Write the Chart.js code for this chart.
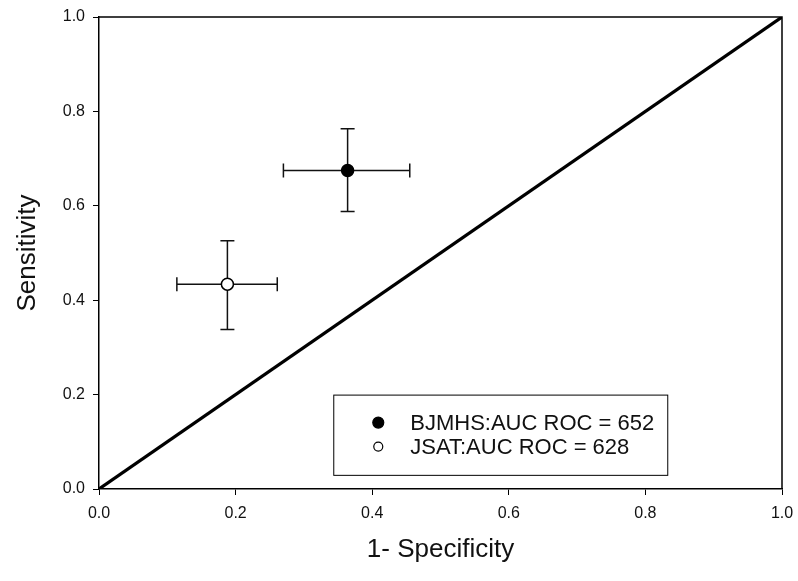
<!DOCTYPE html>
<html>
<head>
<meta charset="utf-8">
<script src="https://cdn.jsdelivr.net/npm/chart.js@4.4.1/dist/chart.umd.min.js"></script>
<style>
  html, body { margin: 0; padding: 0; background: #fff; }
  #wrap { width: 798px; height: 581px; }
</style>
</head>
<body>
<div id="wrap"><canvas id="roc"></canvas></div>
<script>
// ROC points with 95% error bars
const seriesLabels = ['BJMHS:AUC ROC = 652', 'JSAT:AUC ROC = 628'];
const specX = [0.364, 0.188];        // 1 - specificity
const sensY = [0.675, 0.434];        // sensitivity
const xLow = [0.270, 0.114];
const xHigh = [0.455, 0.261];
const yLow = [0.588, 0.338];
const yHigh = [0.763, 0.526];
const filled = [true, false];

const diagX = [0, 1];
const diagY = [0, 1];
const tickValues = [0, 0.2, 0.4, 0.6, 0.8, 1.0];

const FONT = 'Liberation Sans, Arial, Helvetica, sans-serif';

const errorBars = {
  id: 'errorBars',
  afterDatasetsDraw(chart) {
    const { ctx, scales: { x, y } } = chart;
    ctx.save();
    ctx.strokeStyle = '#111';
    ctx.lineWidth = 1.5;
    const cap = 7;
    specX.forEach((sx, i) => {
      const px = x.getPixelForValue(sx), py = y.getPixelForValue(sensY[i]);
      const l = x.getPixelForValue(xLow[i]), r = x.getPixelForValue(xHigh[i]);
      const t = y.getPixelForValue(yHigh[i]), b = y.getPixelForValue(yLow[i]);
      ctx.beginPath();
      ctx.moveTo(l, py); ctx.lineTo(r, py);
      ctx.moveTo(l, py - cap); ctx.lineTo(l, py + cap);
      ctx.moveTo(r, py - cap); ctx.lineTo(r, py + cap);
      ctx.moveTo(px, t); ctx.lineTo(px, b);
      ctx.moveTo(px - cap, t); ctx.lineTo(px + cap, t);
      ctx.moveTo(px - cap, b); ctx.lineTo(px + cap, b);
      ctx.stroke();
    });
    // redraw points on top of the bars
    specX.forEach((sx, i) => {
      const px = x.getPixelForValue(sx), py = y.getPixelForValue(sensY[i]);
      ctx.beginPath();
      ctx.arc(px, py, 6, 0, Math.PI * 2);
      ctx.fillStyle = filled[i] ? '#000' : '#fff';
      ctx.fill();
      ctx.lineWidth = 1.5;
      ctx.strokeStyle = '#000';
      ctx.stroke();
    });
    ctx.restore();
  }
};

const frameAndLegend = {
  id: 'frameAndLegend',
  afterDraw(chart) {
    const { ctx, chartArea: a } = chart;
    ctx.save();
    // box frame
    ctx.strokeStyle = '#000';
    ctx.lineWidth = 1.5;
    ctx.beginPath();
    ctx.moveTo(a.left, a.top); ctx.lineTo(a.right, a.top); ctx.lineTo(a.right, a.bottom);
    ctx.stroke();

    // legend box inside the plot
    const w = a.right - a.left, h = a.bottom - a.top;
    const bx = a.left + 0.343 * w, by = a.top + 0.80 * h;
    const bw = 0.489 * w, bh = 0.17 * h;
    ctx.lineWidth = 1;
    ctx.fillStyle = '#fff';
    ctx.fillRect(bx, by, bw, bh);
    ctx.strokeRect(bx + 0.5, by + 0.5, bw, bh);
    ctx.font = '22px ' + FONT;
    ctx.textBaseline = 'middle';
    seriesLabels.forEach((lab, i) => {
      const cy = by + 28 + i * 24;
      ctx.beginPath();
      ctx.arc(bx + 45, cy, filled[i] ? 5.5 : 4.5, 0, Math.PI * 2);
      ctx.fillStyle = filled[i] ? '#000' : '#fff';
      ctx.fill();
      ctx.lineWidth = 1.2;
      ctx.stroke();
      ctx.fillStyle = '#111';
      ctx.fillText(lab, bx + 77, cy + 1);
    });
    ctx.restore();
  }
};

new Chart(document.getElementById('roc'), {
  type: 'scatter',
  data: {
    datasets: [
      {
        type: 'line',
        label: 'diagonal',
        data: diagX.map((v, i) => ({ x: v, y: diagY[i] })),
        borderColor: '#000',
        borderWidth: 3.2,
        pointRadius: 0,
        fill: false
      },
      {
        label: seriesLabels[0],
        data: [{ x: specX[0], y: sensY[0] }],
        pointRadius: 0
      },
      {
        label: seriesLabels[1],
        data: [{ x: specX[1], y: sensY[1] }],
        pointRadius: 0
      }
    ]
  },
  options: {
    responsive: true,
    maintainAspectRatio: false,
    animation: false,
    layout: { padding: { top: 17, right: 16, left: 0, bottom: 0 } },
    plugins: {
      legend: { display: false },
      tooltip: { enabled: false }
    },
    scales: {
      x: {
        type: 'linear',
        min: 0, max: 1,
        afterBuildTicks: s => { s.ticks = tickValues.map(v => ({ value: v })); },
        afterFit: s => { s.height = 92; s.paddingLeft = 0; s.paddingRight = 0; },
        grid: { drawOnChartArea: false, drawTicks: true, tickLength: 6, color: '#000', lineWidth: 1 },
        border: { display: true, color: '#000', width: 1.5 },
        ticks: { color: '#111', font: { family: FONT, size: 16 }, padding: 9, callback: v => v.toFixed(1) },
        title: { display: true, text: '1- Specificity', color: '#111', font: { family: FONT, size: 26 }, padding: { top: 4, bottom: 16 } }
      },
      y: {
        type: 'linear',
        min: 0, max: 1,
        afterBuildTicks: s => { s.ticks = tickValues.map(v => ({ value: v })); },
        afterFit: s => { s.width = 99; s.paddingTop = 0; s.paddingBottom = 0; },
        grid: { drawOnChartArea: false, drawTicks: true, tickLength: 6, color: '#000', lineWidth: 1 },
        border: { display: true, color: '#000', width: 1.5 },
        ticks: { color: '#111', font: { family: FONT, size: 16 }, padding: 8, callback: v => v.toFixed(1) },
        title: { display: true, text: 'Sensitivity', color: '#111', font: { family: FONT, size: 26 }, padding: { top: 12, bottom: 4 } }
      }
    }
  },
  plugins: [errorBars, frameAndLegend]
});
</script>
</body>
</html>
